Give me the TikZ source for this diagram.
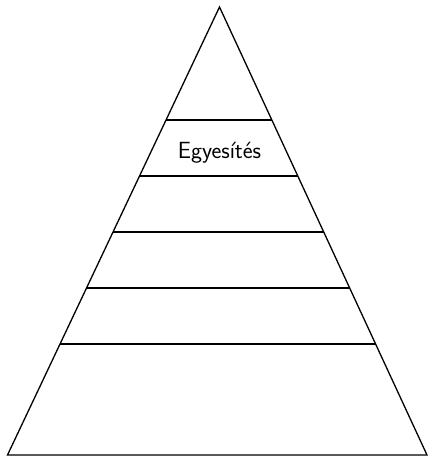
\documentclass[tikz,border=0pt]{standalone}
\usetikzlibrary{calc}
\tikzset{edge/.style={line width=1.3bp, line join=miter}, txtlabel/.style={font=\sffamily\fontsize{23.5}{28}\selectfont}}
\begin{document}
\begin{tikzpicture}[x=1bp,y=-1bp]
\useasboundingbox (0,0) rectangle (428,456);
\coordinate (A) at (219.5,7);
\coordinate (L) at (7.5,455);
\coordinate (R) at (427,455);
\draw[edge] (L) -- (A) -- (R) -- cycle;
\foreach \yy in {120,176,232,288,344}{
  \draw[edge] ($(A)!{(\yy-7)/448}!(L)$) -- ($(A)!{(\yy-7)/448}!(R)$);
}
\node[txtlabel] (t) at (219.5,153) {Egyesítés};
\end{tikzpicture}
\end{document}
